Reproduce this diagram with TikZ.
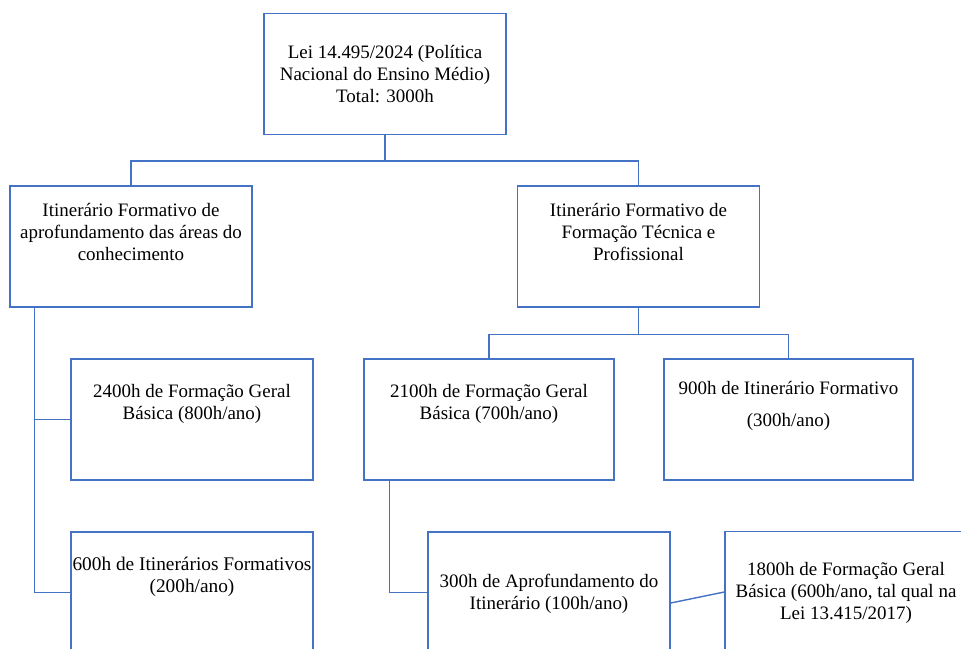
\documentclass[tikz,border=0pt]{standalone}
\usepackage{fontspec}
\setmainfont{Liberation Serif}
\usetikzlibrary{positioning}
\definecolor{linkblue}{HTML}{4472C4}

\begin{document}
\begin{tikzpicture}[
    x=0.02cm, y=-0.02cm,
    box/.style={
        rectangle, draw=linkblue, line width=0.8pt,
        minimum width=4.84cm, minimum height=2.42cm,
        inner sep=0pt
    },
    txt/.style={
        align=center, inner sep=0pt,
        font=\fontsize{10.8}{12.5}\selectfont
    },
    link/.style={draw=linkblue, line width=0.8pt},
]

\useasboundingbox (0,0) rectangle (961,649);
\clip (0,0) rectangle (961,649);

% Caixas
\node[box] (lei)  at (385,74)    {};
\node[box] (if1)  at (131,246.5) {};
\node[box] (if2)  at (638.5,246.5) {};
\node[box] (fgb1) at (192,419.5) {};
\node[box, minimum width=5cm] (fgb2) at (489,419.5) {};
\node[box, minimum width=4.98cm] (itf) at (788.5,419.5) {};
\node[box] (itf1) at (192,592.5) {};
\node[box] (apr)  at (549,592.5) {};
\node[box] (fgb3) at (846,592)   {};

% Textos
\node[txt] (lei-t)  at (385,74)  {Lei 14.495/2024 (Política\\Nacional do Ensino Médio)\\Total: 3000h};
\node[txt] (if1-t)  at (131,232) {Itinerário Formativo de\\aprofundamento das áreas do\\conhecimento};
\node[txt] (if2-t)  at (638.5,232) {Itinerário Formativo de\\Formação Técnica e\\Profissional};
\node[txt] (fgb1-t) at (192,404) {2400h de Formação Geral\\Básica (800h/ano)};
\node[txt] (fgb2-t) at (489,404) {2100h de Formação Geral\\Básica (700h/ano)};
\node[txt] (itf-t)  at (788.5,406) {900h de Itinerário Formativo\\[5.7pt](300h/ano)};
\node[txt, font=\fontsize{11}{12.5}\selectfont] (itf1-t) at (192,577) {600h de Itinerários Formativos\\(200h/ano)};
\node[txt] (apr-t)  at (549,593.5) {300h de Aprofundamento do\\Itinerário (100h/ano)};
\node[txt] (fgb3-t) at (846,592.5) {1800h de Formação Geral\\Básica (600h/ano, tal qual na\\Lei 13.415/2017)};

% Ligações do topo
\draw[link] (lei.south) -- ++(0,26) -| (if1.north);
\draw[link] (lei.south) -- ++(0,26) -| (if2.north);

% Ramo esquerdo
\draw[link] ([xshift=0.5cm]if1.south west) |- (fgb1.west);
\draw[link] ([xshift=0.5cm]if1.south west) |- (itf1.west);

% Ramo direito
\draw[link] (if2.south) -- ++(0,27) -| (fgb2.north);
\draw[link] (if2.south) -- ++(0,27) -| (itf.north);
\draw[link] ([xshift=0.52cm]fgb2.south west) |- (apr.west);
\draw[link] ([yshift=-0.21cm]apr.east) -- (fgb3.west);

\end{tikzpicture}
\end{document}
